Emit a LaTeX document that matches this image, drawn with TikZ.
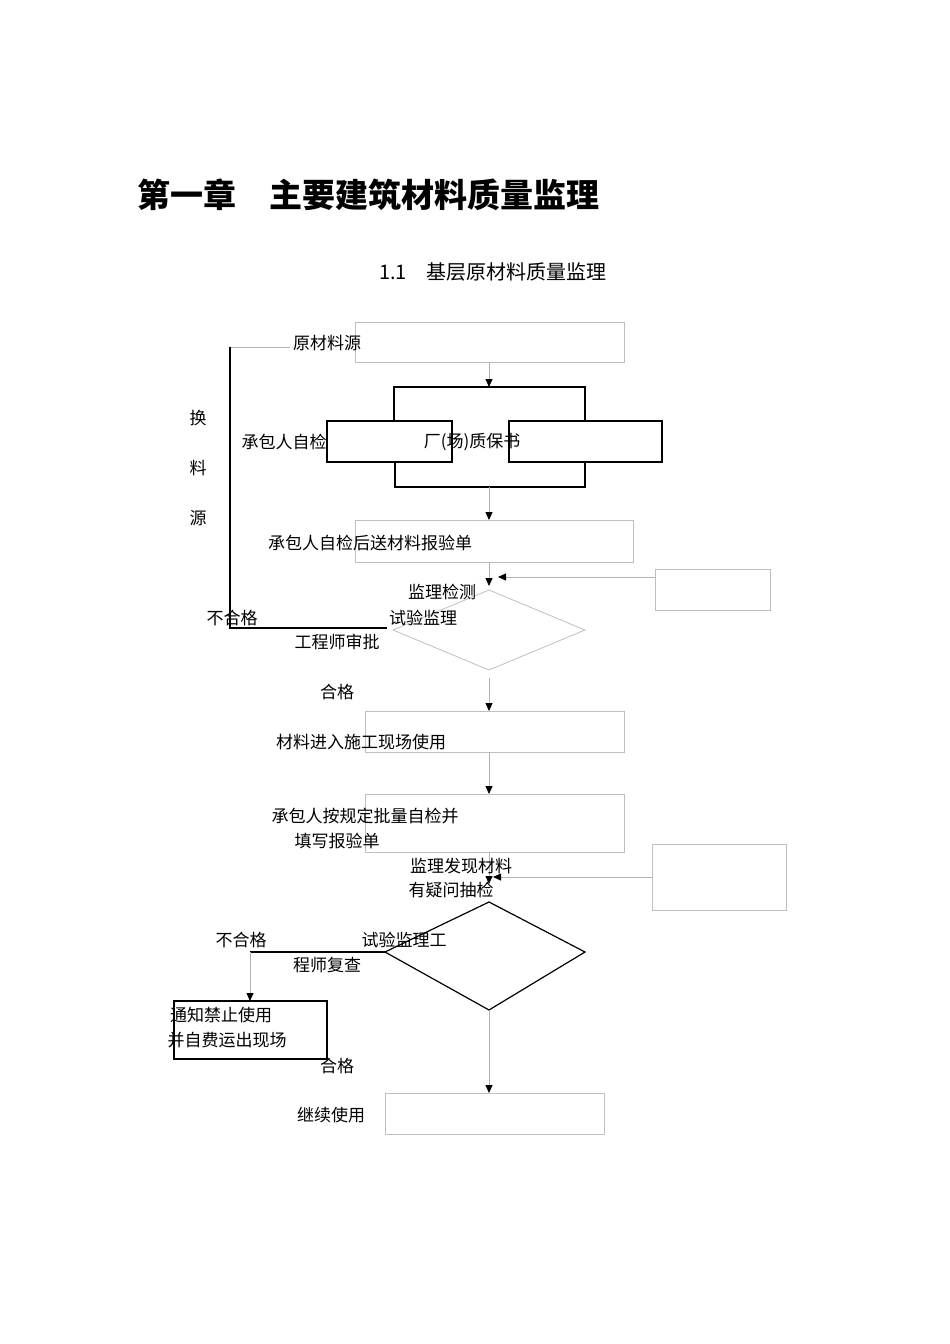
\documentclass[tikz,border=0pt]{standalone}
\usepackage{fontspec}
\setmainfont{Liberation Serif}
\newfontfamily\cjk{Noto Sans CJK SC}
\usetikzlibrary{arrows.meta}
\begin{document}
\begin{tikzpicture}[x=1pt,y=-1pt,
  gbox/.style={draw=black!25,line width=0.8pt},
  bbox/.style={draw=black,line width=1.2pt},
  gl/.style={draw=black!30,line width=0.8pt},
  bl/.style={draw=black,line width=1.2pt},
  arr/.style={-{Triangle[length=8pt,width=7pt,fill=black,color=black]}},
  lbl/.style={font=\cjk\fontsize{17}{20}\selectfont,inner sep=0pt}]
\useasboundingbox (0,0) rectangle (950,1344);
\node[anchor=west,inner sep=0pt,font=\cjk\bfseries\fontsize{33}{36}\selectfont] (title) at (137,195) {第一章\quad 主要建筑材料质量监理};
\node[inner sep=0pt,font=\cjk\fontsize{20}{24}\selectfont] (sub) at (493,272) {1.1\quad 基层原材料质量监理};
% boxes
\draw[gbox] (355,322) rectangle (624,362);
\coordinate (b1s) at (489,362);
\draw[bl] (394,421) -- (394,387) -- (585,387) -- (585,421);
\draw[bl] (395,462) -- (395,487) -- (585,487) -- (585,462);
\coordinate (bt) at (489,387);
\coordinate (bb) at (489,487);
\draw[bbox] (327,421) rectangle (452,462);
\draw[bbox] (509,421) rectangle (662,462);
\draw[gbox] (355,520) rectangle (633,562);
\draw[gbox] (655,569) rectangle (770,610);
\draw[gbox] (489,590) -- (585,630) -- (489,670) -- (393,630) -- cycle;
\draw[gbox] (365,711) rectangle (624,752);
\draw[gbox] (365,794) rectangle (624,852);
\draw[gbox] (652,844) rectangle (786,910);
\draw[bbox] (489,902) -- (585,952) -- (489,1010) -- (385,952) -- cycle;
\draw[bbox] (174,1001) rectangle (327,1059);
\draw[gbox] (385,1093) rectangle (604,1134);
% connectors
\draw[gl,arr] (b1s) -- (bt);
\draw[gl,arr] (bb) -- (489,520);
\draw[gl,arr] (489,562) -- (489,586);
\draw[gl,arr] (655,577) -- (498,577);
\draw[gl,arr] (489,678) -- (489,711);
\draw[gl,arr] (489,752) -- (489,794);
\draw[gl,arr] (489,852) -- (489,884);
\draw[gl,arr] (652,877) -- (493,877);
\draw[gl,arr] (489,1010) -- (489,1093);
\draw[gl] (290,347) -- (230,347);
\draw[bl] (230,347) -- (230,628) -- (387,628);
\draw[bl] (385,952) -- (250,952);
\draw[gl,arr] (250,952) -- (250,1001);
% labels
\node[lbl] (t1) at (327,343) {原材料源};
\node[lbl] (t2) at (284,442) {承包人自检};
\node[lbl] (t3) at (472,442) {厂(场)质保书};
\node[lbl] (t4) at (370,543) {承包人自检后送材料报验单};
\node[lbl] (h1) at (198,418) {换};
\node[lbl] (h2) at (198,468) {料};
\node[lbl] (h3) at (198,518) {源};
\node[lbl] (t5) at (442,592) {监理检测};
\node[lbl] (t6) at (423,618) {试验监理};
\node[lbl] (t7) at (337,642) {工程师审批};
\node[lbl] (t8) at (232,618) {不合格};
\node[lbl] (t9) at (337,692) {合格};
\node[lbl] (t10) at (361,742) {材料进入施工现场使用};
\node[lbl] (t11) at (365,816) {承包人按规定批量自检并};
\node[lbl] (t12) at (337,841) {填写报验单};
\node[lbl] (t13) at (461,866) {监理发现材料};
\node[lbl] (t14) at (451,890) {有疑问抽检};
\node[lbl] (t15) at (241,940) {不合格};
\node[lbl] (t16) at (404,940) {试验监理工};
\node[lbl] (t17) at (327,965) {程师复查};
\node[lbl] (t18) at (221,1015) {通知禁止使用};
\node[lbl] (t19) at (227,1040) {并自费运出现场};
\node[lbl] (t20) at (337,1066) {合格};
\node[lbl] (t21) at (331,1115) {继续使用};
\end{tikzpicture}
\end{document}
